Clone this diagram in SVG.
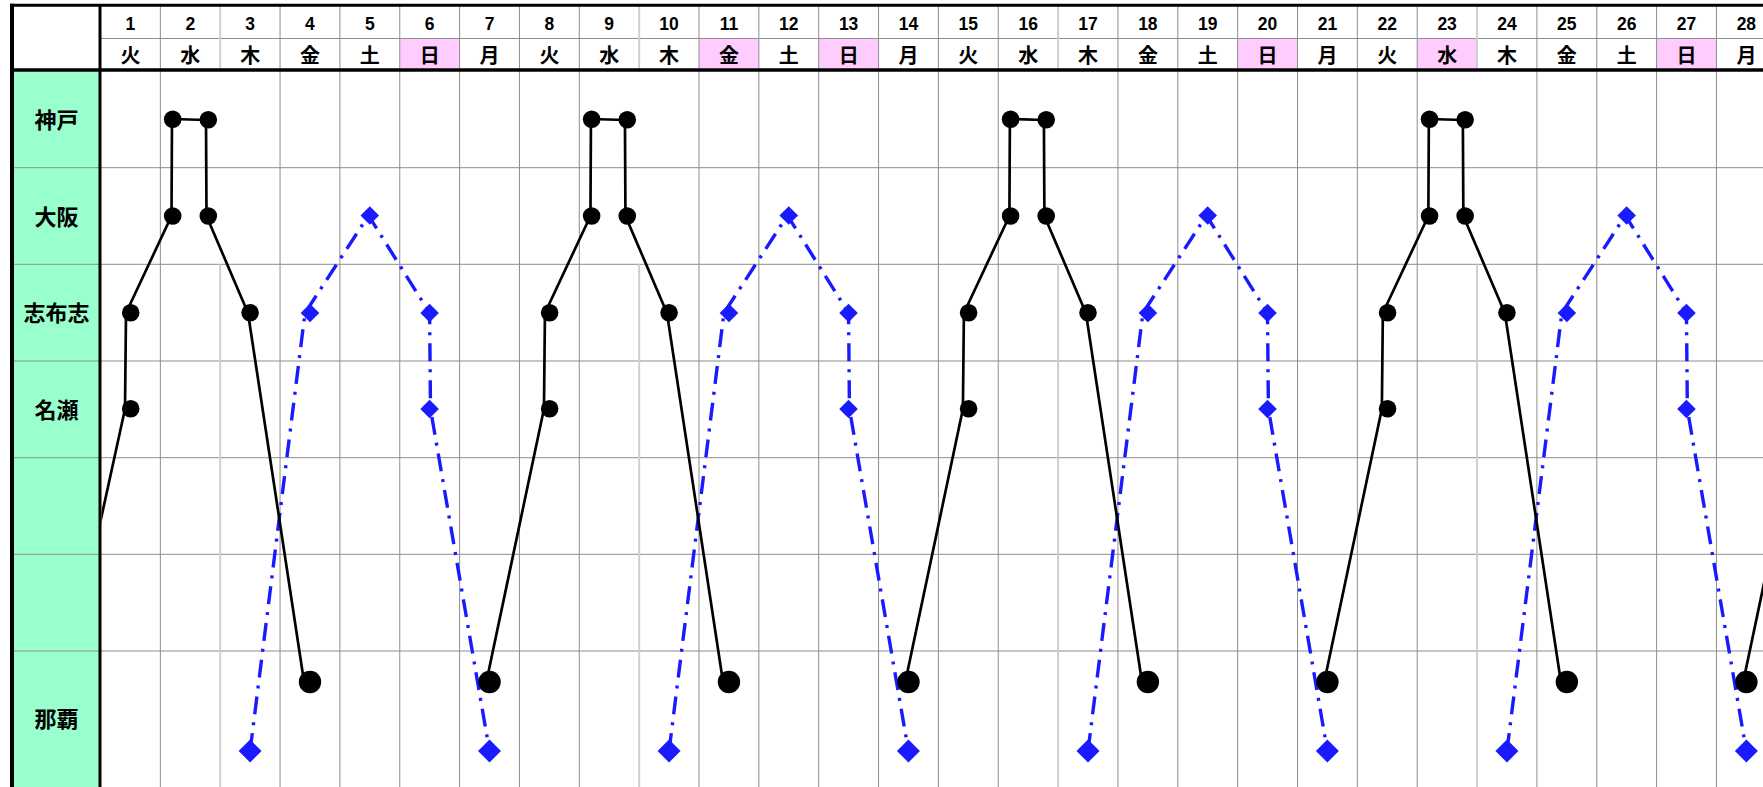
<svg xmlns="http://www.w3.org/2000/svg" xmlns:xlink="http://www.w3.org/1999/xlink" width="1763" height="787" viewBox="0 0 1763 787">
<style>
.g{stroke:#8e8e8e;stroke-width:1;fill:none}
.gl{stroke:#cfcfcf;stroke-width:2;fill:none}
.tk{stroke:#000;fill:none}
.num{font-family:"Liberation Sans","Noto Sans CJK JP",sans-serif;font-weight:bold;font-size:17.5px;text-anchor:middle;fill:#000}
.wd{font-family:"Noto Sans CJK JP","Noto Sans CJK SC",sans-serif;font-weight:bold;font-size:20px;text-anchor:middle;fill:#000}
.lb{font-family:"Noto Sans CJK JP","Noto Sans CJK SC",sans-serif;font-weight:bold;font-size:22px;text-anchor:middle;fill:#000}
.bl{stroke:#000;stroke-width:2.7;fill:none;stroke-linejoin:round}
.bm{fill:#000}
.ul{stroke:#1a1aff;stroke-width:3.4;fill:none;stroke-dasharray:18 8 3 8}
.um{fill:#1a1aff}
</style>
<defs>
<path id="dm" d="M0,-9.3 L9.3,0 L0,9.3 L-9.3,0 Z"/>
<path id="dmL" d="M0,-11.5 L11.5,0 L0,11.5 L-11.5,0 Z"/>
<clipPath id="plot" clipPathUnits="userSpaceOnUse"><rect x="101.5" y="71.5" width="1662" height="716"/></clipPath>
</defs>
<rect x="0" y="0" width="1763" height="787" fill="#fff"/>
<g id="fills">
<rect x="14" y="71" width="85" height="716" fill="#99ffcc"/>
<rect x="399.75" y="38.5" width="59.85" height="30" fill="#ffccff"/>
<rect x="699" y="38.5" width="59.85" height="30" fill="#ffccff"/>
<rect x="818.7" y="38.5" width="59.85" height="30" fill="#ffccff"/>
<rect x="1237.65" y="38.5" width="59.85" height="30" fill="#ffccff"/>
<rect x="1417.2" y="38.5" width="59.85" height="30" fill="#ffccff"/>
<rect x="1656.6" y="38.5" width="59.85" height="30" fill="#ffccff"/>
</g>
<g id="grid">
<path class="g" d="M100,38.5H1763 M12,167.7H1763 M12,264.3H1763 M12,361H1763 M12,457.7H1763 M12,554.3H1763 M12,651H1763"/>
<path class="g" d="M160.35,5V787 M280.05,5V787 M339.9,5V787 M399.75,5V787 M459.6,5V787 M519.45,5V787 M579.3,5V787 M699,5V787 M758.85,5V787 M818.7,5V787 M878.55,5V787 M938.4,5V787 M998.25,5V787 M1117.95,5V787 M1177.8,5V787 M1237.65,5V787 M1297.5,5V787 M1357.35,5V787 M1417.2,5V787 M1536.9,5V787 M1596.75,5V787 M1656.6,5V787 M1716.45,5V787"/>
<path class="gl" d="M220.2,6V69 M220.2,264.3V787 M639.15,6V69 M639.15,264.3V787 M1058.1,6V69 M1058.1,264.3V787 M1477.05,6V69 M1477.05,264.3V787"/>
<path class="tk" stroke-width="3" d="M10,5.3H1763"/>
<path class="tk" stroke-width="3.5" d="M10,70H1763"/>
<path class="tk" stroke-width="4" d="M12,3.8V787"/>
<path class="tk" stroke-width="3" d="M100,5V787"/>
</g>
<g id="header">
<text class="num" x="130.43" y="30.2">1</text>
<text class="num" x="190.28" y="30.2">2</text>
<text class="num" x="250.13" y="30.2">3</text>
<text class="num" x="309.98" y="30.2">4</text>
<text class="num" x="369.83" y="30.2">5</text>
<text class="num" x="429.68" y="30.2">6</text>
<text class="num" x="489.53" y="30.2">7</text>
<text class="num" x="549.38" y="30.2">8</text>
<text class="num" x="609.23" y="30.2">9</text>
<text class="num" x="669.08" y="30.2">10</text>
<text class="num" x="728.93" y="30.2">11</text>
<text class="num" x="788.78" y="30.2">12</text>
<text class="num" x="848.63" y="30.2">13</text>
<text class="num" x="908.48" y="30.2">14</text>
<text class="num" x="968.33" y="30.2">15</text>
<text class="num" x="1028.18" y="30.2">16</text>
<text class="num" x="1088.03" y="30.2">17</text>
<text class="num" x="1147.88" y="30.2">18</text>
<text class="num" x="1207.73" y="30.2">19</text>
<text class="num" x="1267.58" y="30.2">20</text>
<text class="num" x="1327.43" y="30.2">21</text>
<text class="num" x="1387.28" y="30.2">22</text>
<text class="num" x="1447.13" y="30.2">23</text>
<text class="num" x="1506.98" y="30.2">24</text>
<text class="num" x="1566.83" y="30.2">25</text>
<text class="num" x="1626.68" y="30.2">26</text>
<text class="num" x="1686.53" y="30.2">27</text>
<text class="num" x="1746.38" y="30.2">28</text>
<text class="wd" x="130.43" y="62.5">火</text>
<text class="wd" x="190.28" y="62.5">水</text>
<text class="wd" x="250.13" y="62.5">木</text>
<text class="wd" x="309.98" y="62.5">金</text>
<text class="wd" x="369.83" y="62.5">土</text>
<text class="wd" x="429.68" y="62.5">日</text>
<text class="wd" x="489.53" y="62.5">月</text>
<text class="wd" x="549.38" y="62.5">火</text>
<text class="wd" x="609.23" y="62.5">水</text>
<text class="wd" x="669.08" y="62.5">木</text>
<text class="wd" x="728.93" y="62.5">金</text>
<text class="wd" x="788.78" y="62.5">土</text>
<text class="wd" x="848.63" y="62.5">日</text>
<text class="wd" x="908.48" y="62.5">月</text>
<text class="wd" x="968.33" y="62.5">火</text>
<text class="wd" x="1028.18" y="62.5">水</text>
<text class="wd" x="1088.03" y="62.5">木</text>
<text class="wd" x="1147.88" y="62.5">金</text>
<text class="wd" x="1207.73" y="62.5">土</text>
<text class="wd" x="1267.58" y="62.5">日</text>
<text class="wd" x="1327.43" y="62.5">月</text>
<text class="wd" x="1387.28" y="62.5">火</text>
<text class="wd" x="1447.13" y="62.5">水</text>
<text class="wd" x="1506.98" y="62.5">木</text>
<text class="wd" x="1566.83" y="62.5">金</text>
<text class="wd" x="1626.68" y="62.5">土</text>
<text class="wd" x="1686.53" y="62.5">日</text>
<text class="wd" x="1746.38" y="62.5">月</text>
</g>
<g id="row-labels">
<text class="lb" x="56.5" y="128.3">神戸</text>
<text class="lb" x="56.5" y="225">大阪</text>
<text class="lb" x="56.5" y="321.3">志布志</text>
<text class="lb" x="56.5" y="418.3">名瀬</text>
<text class="lb" x="56.5" y="727.3">那覇</text>
</g>
<g id="connectors" clip-path="url(#plot)">
<g id="blue-series">
<g id="blue-week-1">
<path class="ul" d="M250.1,751 L305,313 L368.5,215.5 L429.6,313 L430.5,409 L489.5,751"/>
<use href="#dmL" class="um" x="250.1" y="751"/><use href="#dm" class="um" x="310" y="313"/><use href="#dm" class="um" x="369.8" y="215.5"/><use href="#dm" class="um" x="429.6" y="313"/><use href="#dm" class="um" x="429.6" y="409"/><use href="#dmL" class="um" x="489.5" y="751"/>
</g>
<g id="blue-week-2" transform="translate(418.95 0)">
<path class="ul" d="M250.1,751 L305,313 L368.5,215.5 L429.6,313 L430.5,409 L489.5,751"/>
<use href="#dmL" class="um" x="250.1" y="751"/><use href="#dm" class="um" x="310" y="313"/><use href="#dm" class="um" x="369.8" y="215.5"/><use href="#dm" class="um" x="429.6" y="313"/><use href="#dm" class="um" x="429.6" y="409"/><use href="#dmL" class="um" x="489.5" y="751"/>
</g>
<g id="blue-week-3" transform="translate(837.9 0)">
<path class="ul" d="M250.1,751 L305,313 L368.5,215.5 L429.6,313 L430.5,409 L489.5,751"/>
<use href="#dmL" class="um" x="250.1" y="751"/><use href="#dm" class="um" x="310" y="313"/><use href="#dm" class="um" x="369.8" y="215.5"/><use href="#dm" class="um" x="429.6" y="313"/><use href="#dm" class="um" x="429.6" y="409"/><use href="#dmL" class="um" x="489.5" y="751"/>
</g>
<g id="blue-week-4" transform="translate(1256.85 0)">
<path class="ul" d="M250.1,751 L305,313 L368.5,215.5 L429.6,313 L430.5,409 L489.5,751"/>
<use href="#dmL" class="um" x="250.1" y="751"/><use href="#dm" class="um" x="310" y="313"/><use href="#dm" class="um" x="369.8" y="215.5"/><use href="#dm" class="um" x="429.6" y="313"/><use href="#dm" class="um" x="429.6" y="409"/><use href="#dmL" class="um" x="489.5" y="751"/>
</g>
</g>
<g id="black-series">
<g id="black-week-1">
<path class="bl" d="M65.5,681.5 L125,409 L126,313 L171.5,216 L172,119 L206,120 L206.5,216 L248,313 L304,681.5"/>
<circle class="bm" cx="130.7" cy="408.7" r="8.8"/><circle class="bm" cx="130.7" cy="312.8" r="8.8"/><circle class="bm" cx="172.7" cy="216" r="8.8"/><circle class="bm" cx="172.7" cy="119.3" r="8.8"/><circle class="bm" cx="208.3" cy="119.8" r="8.8"/><circle class="bm" cx="208.3" cy="216" r="8.8"/><circle class="bm" cx="250.1" cy="312.8" r="8.8"/><circle class="bm" cx="310" cy="682" r="11.2"/>
</g>
<g id="black-week-2" transform="translate(418.95 0)">
<path class="bl" d="M67.5,681.5 L125,409 L126,313 L171.5,216 L172,119 L206,120 L206.5,216 L248,313 L304,681.5"/>
<circle class="bm" cx="70.6" cy="682" r="11.2"/><circle class="bm" cx="130.7" cy="408.7" r="8.8"/><circle class="bm" cx="130.7" cy="312.8" r="8.8"/><circle class="bm" cx="172.7" cy="216" r="8.8"/><circle class="bm" cx="172.7" cy="119.3" r="8.8"/><circle class="bm" cx="208.3" cy="119.8" r="8.8"/><circle class="bm" cx="208.3" cy="216" r="8.8"/><circle class="bm" cx="250.1" cy="312.8" r="8.8"/><circle class="bm" cx="310" cy="682" r="11.2"/>
</g>
<g id="black-week-3" transform="translate(837.9 0)">
<path class="bl" d="M67.5,681.5 L125,409 L126,313 L171.5,216 L172,119 L206,120 L206.5,216 L248,313 L304,681.5"/>
<circle class="bm" cx="70.6" cy="682" r="11.2"/><circle class="bm" cx="130.7" cy="408.7" r="8.8"/><circle class="bm" cx="130.7" cy="312.8" r="8.8"/><circle class="bm" cx="172.7" cy="216" r="8.8"/><circle class="bm" cx="172.7" cy="119.3" r="8.8"/><circle class="bm" cx="208.3" cy="119.8" r="8.8"/><circle class="bm" cx="208.3" cy="216" r="8.8"/><circle class="bm" cx="250.1" cy="312.8" r="8.8"/><circle class="bm" cx="310" cy="682" r="11.2"/>
</g>
<g id="black-week-4" transform="translate(1256.85 0)">
<path class="bl" d="M67.5,681.5 L125,409 L126,313 L171.5,216 L172,119 L206,120 L206.5,216 L248,313 L304,681.5"/>
<circle class="bm" cx="70.6" cy="682" r="11.2"/><circle class="bm" cx="130.7" cy="408.7" r="8.8"/><circle class="bm" cx="130.7" cy="312.8" r="8.8"/><circle class="bm" cx="172.7" cy="216" r="8.8"/><circle class="bm" cx="172.7" cy="119.3" r="8.8"/><circle class="bm" cx="208.3" cy="119.8" r="8.8"/><circle class="bm" cx="208.3" cy="216" r="8.8"/><circle class="bm" cx="250.1" cy="312.8" r="8.8"/><circle class="bm" cx="310" cy="682" r="11.2"/>
</g>
<g id="black-week-5" transform="translate(1675.8 0)">
<path class="bl" d="M67.5,681.5 L125,409"/>
<circle class="bm" cx="70.6" cy="682" r="11.2"/>
</g>
</g>
</g>
</svg>
